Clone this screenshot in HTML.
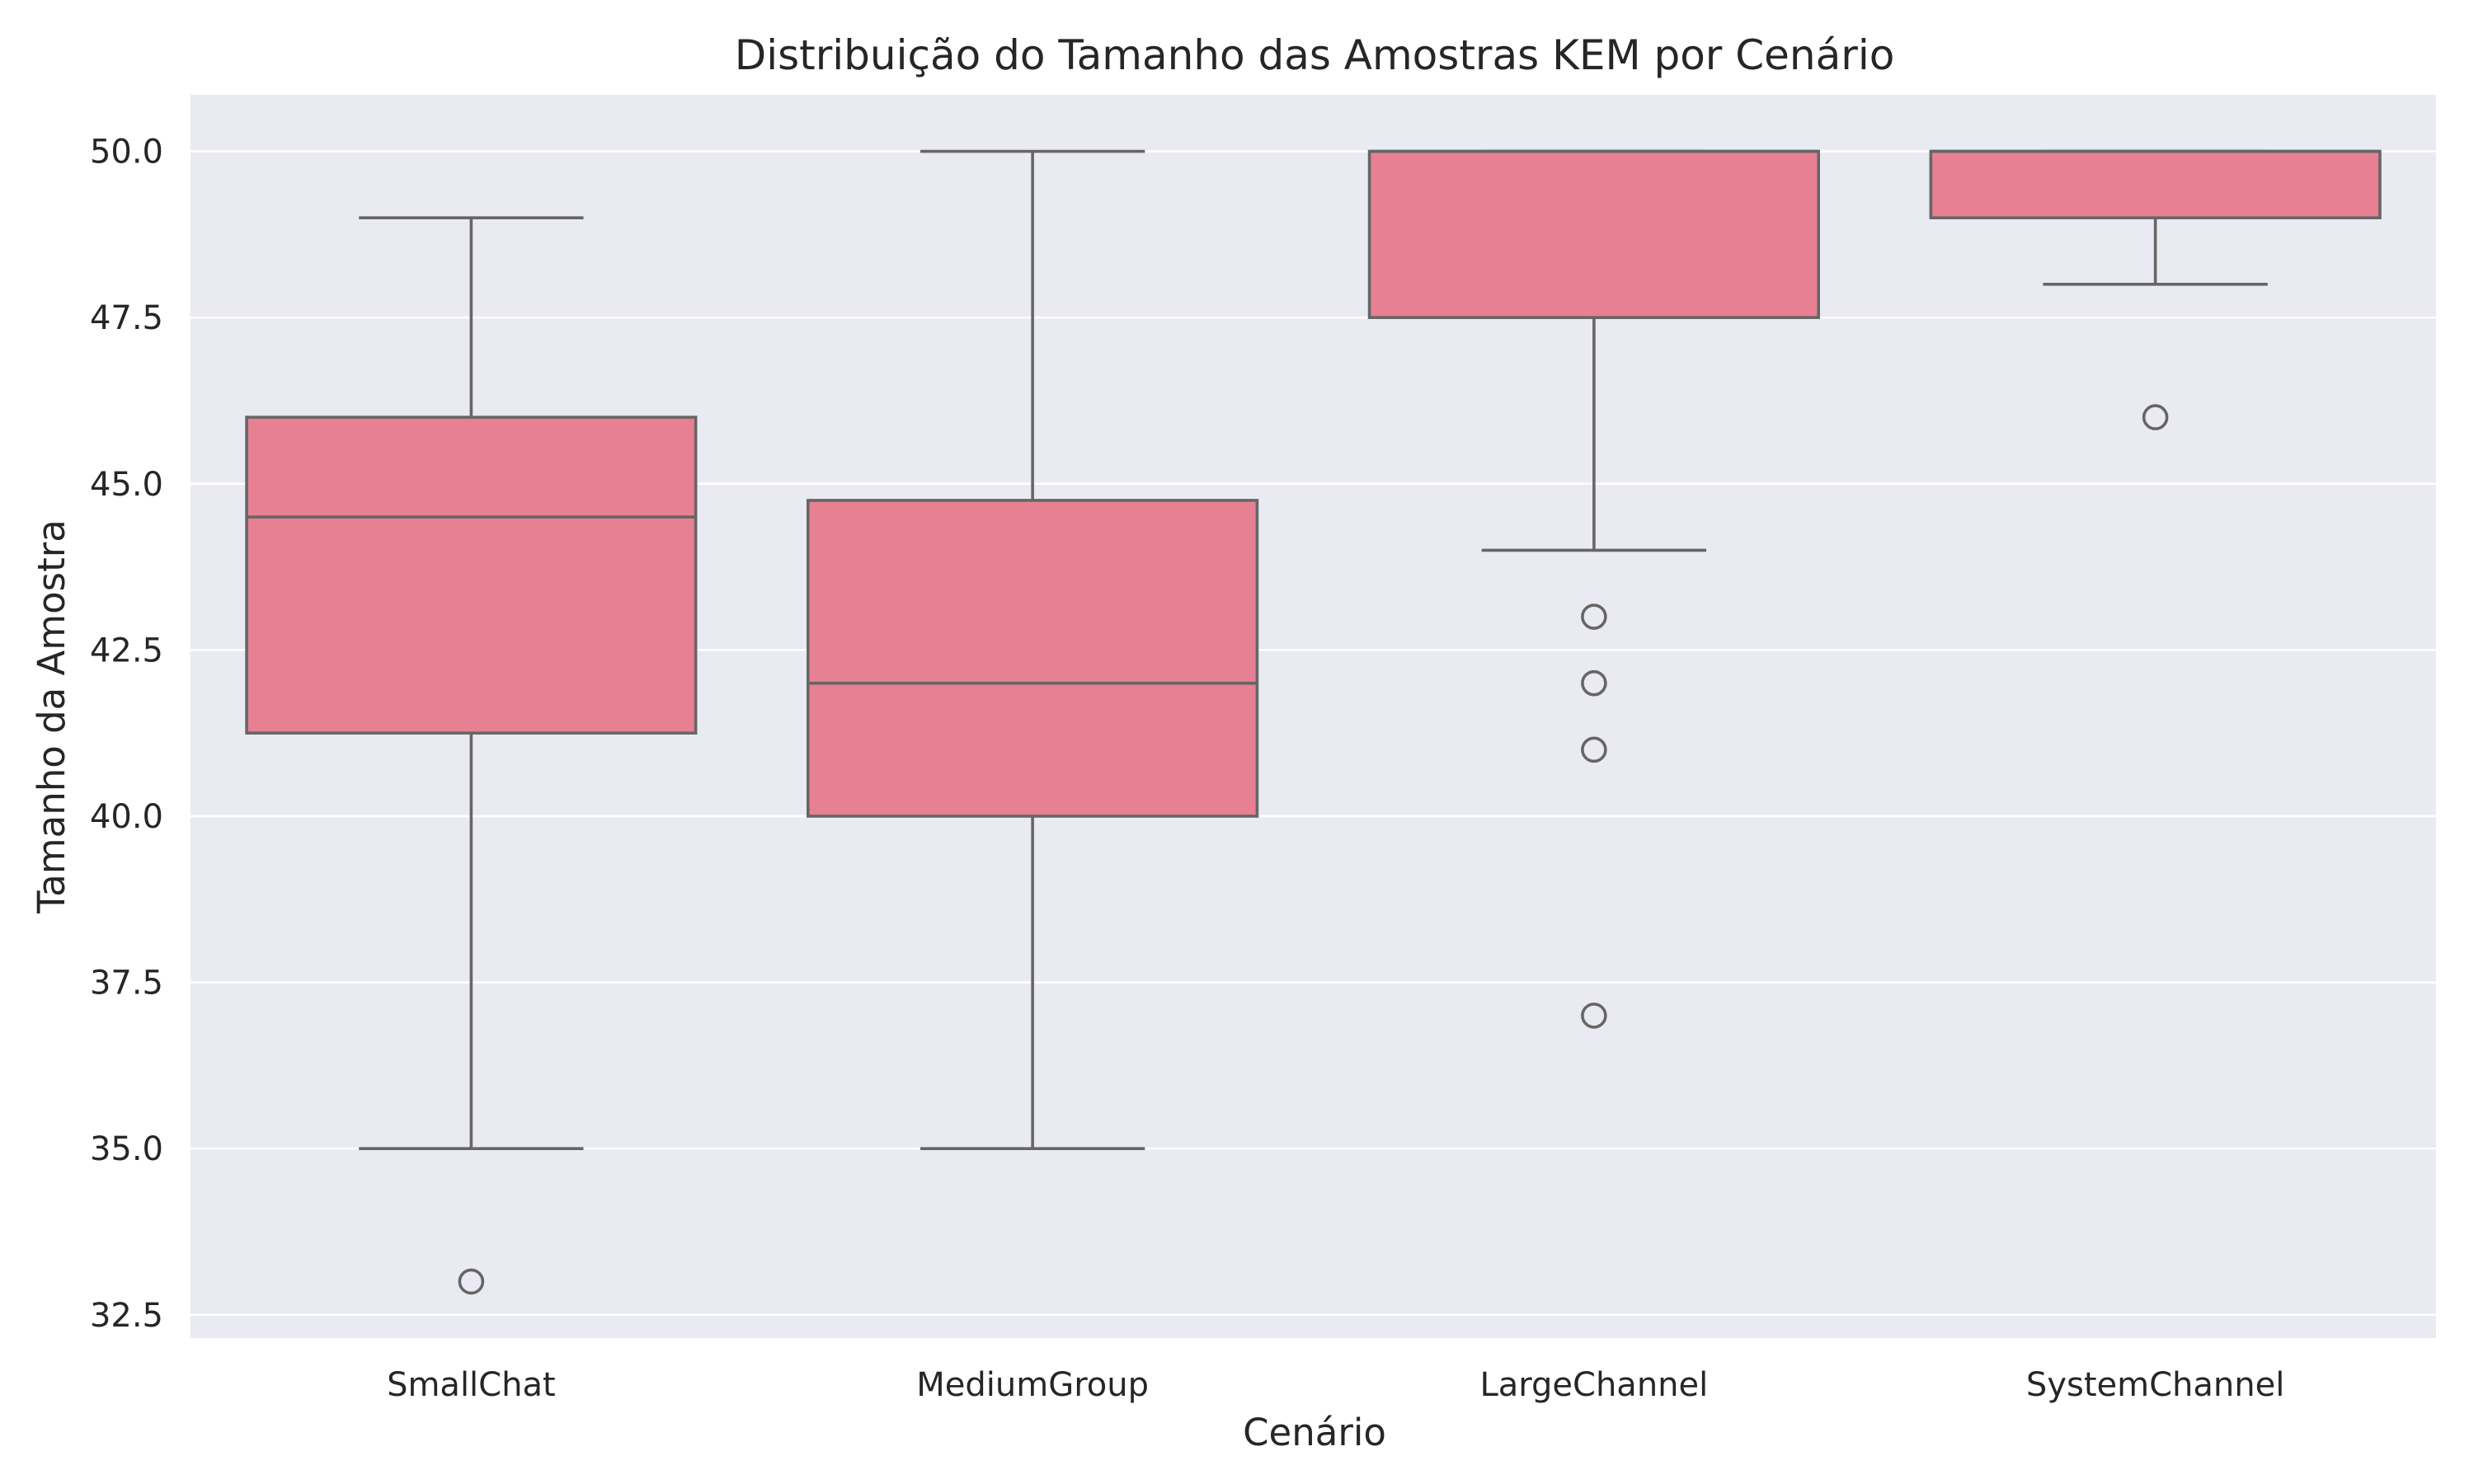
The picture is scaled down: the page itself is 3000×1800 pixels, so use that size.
<!DOCTYPE html>
<html><head><meta charset="utf-8"><style>
html,body{margin:0;padding:0;background:#fff;}
svg{display:block;font-family:"DejaVu Sans","Liberation Sans",sans-serif;}
</style></head><body>
<svg id="chart" width="3000" height="1800" viewBox="0 0 3000 1800" xmlns="http://www.w3.org/2000/svg">
<rect x="0" y="0" width="3000" height="1800" fill="#ffffff"/>
<rect id="plotbg" x="231" y="115" width="2723" height="1508" fill="#eaeaf2"/>
<g id="grid"></g><g id="yticks"></g><g id="xticks"></g><g id="boxes"></g>
<text x="1594" y="84" text-anchor="middle" font-size="50" fill="#262626">Distribuição do Tamanho das Amostras KEM por Cenário</text>
<text x="1594" y="1753" text-anchor="middle" font-size="45" fill="#262626">Cenário</text>
<text transform="translate(78,869) rotate(-90)" text-anchor="middle" font-size="45" fill="#262626">Tamanho da Amostra</text>
</svg>
<script>
const categories=["SmallChat","MediumGroup","LargeChannel","SystemChannel"];
const q1=[41.25,40,47.5,49];
const median=[44.5,42,50,50];
const q3=[46,44.75,50,50];
const whiskerLow=[35,35,44,48];
const whiskerHigh=[49,50,50,50];
const outliers=[[33],[],[43,42,41,37],[46]];
const yTicks=[32.5,35,37.5,40,42.5,45,47.5,50];
const yMin=32.15,yMax=50.85;
const L=231,R=2954,T=115,B=1623;
const NS="http://www.w3.org/2000/svg";
function y(v){return B-(v-yMin)/(yMax-yMin)*(B-T);}
const band=(R-L)/categories.length;
function x(i){return L+band*(i+0.5);}
function mk(tag,attrs,parent){const e=document.createElementNS(NS,tag);for(const k in attrs)e.setAttribute(k,attrs[k]);document.getElementById(parent).appendChild(e);return e;}
yTicks.forEach(t=>{
  const g=mk('line',{x1:L,x2:R,y1:y(t),y2:y(t),stroke:'#fff','stroke-width':2.5},'grid');
  
  
  const lb=mk('text',{x:198,y:y(t)+14,'text-anchor':'end','font-size':40,fill:'#262626'},'yticks');
  lb.textContent=t.toFixed(1);
  
  
});
const bw=band*0.8, cw=bw/2, lc='#666666', lw=3.6;
categories.forEach((c,i)=>{
  const cx=x(i);
  const lb=mk('text',{x:cx,y:1693,'text-anchor':'middle','font-size':40,fill:'#262626'},'xticks');
  lb.textContent=c;
  
  
  const s={stroke:lc,'stroke-width':lw};
  const w1=mk('line',Object.assign({x1:cx,x2:cx,y1:y(q1[i]),y2:y(whiskerLow[i])},s),'boxes');
  
  
  const w2=mk('line',Object.assign({x1:cx,x2:cx,y1:y(q3[i]),y2:y(whiskerHigh[i])},s),'boxes');
  
  
  const c1=mk('line',Object.assign({x1:cx-cw/2,x2:cx+cw/2,y1:y(whiskerLow[i]),y2:y(whiskerLow[i])},s),'boxes');
  
  
  const c2=mk('line',Object.assign({x1:cx-cw/2,x2:cx+cw/2,y1:y(whiskerHigh[i]),y2:y(whiskerHigh[i])},s),'boxes');
  
  
  const b=mk('rect',{x:cx-bw/2,y:y(q3[i]),width:bw,height:y(q1[i])-y(q3[i]),fill:'#e88093',stroke:lc,'stroke-width':lw},'boxes');
  
  
  const m=mk('line',Object.assign({x1:cx-bw/2,x2:cx+bw/2,y1:y(median[i]),y2:y(median[i])},s),'boxes');
  
  
  outliers[i].forEach(o=>{
    const p=mk('circle',{cx:cx,cy:y(o),r:14,fill:'none',stroke:lc,'stroke-width':lw},'boxes');
    
    
  });
});
</script>
</body></html>
